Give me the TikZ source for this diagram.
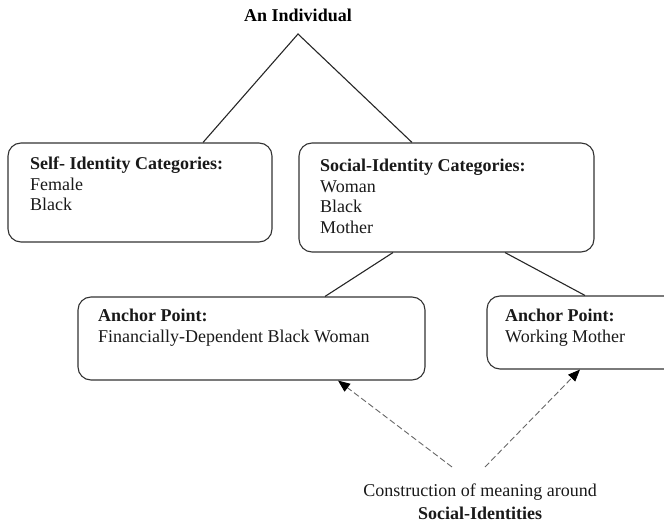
\documentclass[tikz,border=0pt]{standalone}
\usepackage{fontspec}
\setmainfont{Liberation Serif}
\usetikzlibrary{arrows.meta, positioning, calc}
\tikzset{
  % Rounded frame holding one list of categories.
  catbox/.style 2 args={
    rectangle, rounded corners=13pt,
    draw=black!80, line width=1.1pt,
    minimum width=#1, minimum height=#2,
    inner sep=0pt,
  },
  % Text set inside a frame, top-left.
  cattext/.style={
    anchor=north west, align=left, inner sep=0pt,
    font=\fontsize{18}{20.5}\selectfont, text=black!90,
  },
  % Plain tree links.
  link/.style={draw=black!85, line width=1.1pt},
  % Dashed links with a filled head.
  meaning/.style={
    -{Triangle[length=4.2mm, width=3.4mm, color=black]},
    draw=black!60, line width=0.9pt,
    dash pattern=on 6pt off 3pt,
  },
}
\begin{document}
\begin{tikzpicture}[x=1pt, y=-1pt]
  \clip (0,0) rectangle (664,526);
  \useasboundingbox (0,0) rectangle (664,526);

  % Top of the tree.
  \node[font=\fontsize{18}{20}\selectfont\bfseries] (indiv) at (298,15) {An Individual};
  \coordinate (apex) at (298,34);

  % Category frames.
  \node[catbox={264pt}{99pt}] (selfbox) at (140,192.5) {};
  \node[catbox={295pt}{109pt}] (socbox) at (446.5,197.5) {};
  \node[cattext] (selftext) at (30,157)
    {\textbf{Self- Identity Categories:}\\Female\\Black};
  \node[cattext] (soctext) at (320,159)
    {\textbf{Social-Identity Categories:}\\Woman\\Black\\Mother};

  % Anchor frames.
  \node[catbox={347pt}{83pt}] (anchorA) at (251.5,338.5) {};
  \node[catbox={190pt}{73pt}] (anchorB) at (582,332.5) {};
  \node[cattext] (anchorAtext) at (98,309)
    {\textbf{Anchor Point:}\\Financially-Dependent Black Woman};
  \node[cattext] (anchorBtext) at (505,309)
    {\textbf{Anchor Point:}\\Working Mother};

  % Tree links.
  \draw[link] (203,0 |- selfbox.north) -- (apex) -- (412,0 |- socbox.north);
  \draw[link] (393,0 |- socbox.south) -- (325,0 |- anchorA.north);
  \draw[link] (505,0 |- socbox.south) -- (585,0 |- anchorB.north);

  % Bottom caption.
  \node[align=center, font=\fontsize{18}{20}\selectfont, text=black!90] (caption) at (480,502)
    {Construction of meaning around\\[3pt]\textbf{Social-Identities}};
  \coordinate (fromA) at (452,467);
  \coordinate (fromB) at (485,467);

  \draw[meaning] (fromA) -- (338,0 |- anchorA.south);
  \draw[meaning] (fromB) -- (580,0 |- anchorB.south);
\end{tikzpicture}
\end{document}
